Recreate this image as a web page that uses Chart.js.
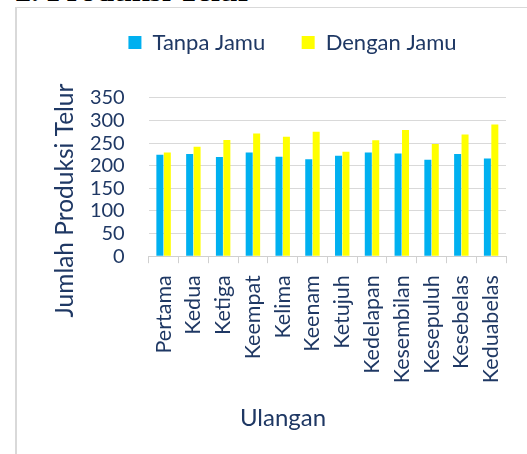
<!DOCTYPE html>
<html>
<head>
<meta charset="utf-8">
<script src="https://cdn.jsdelivr.net/npm/chart.js@4.4.0/dist/chart.umd.min.js"></script>
<style>
  html, body { margin: 0; padding: 0; background: #fff; width: 527px; height: 454px; overflow: hidden; }
  #judul { position: absolute; left: 15px; top: -26.5px; font: bold 32px "Liberation Serif", "Times New Roman", serif; line-height: 32px; color: #000; white-space: nowrap; }
  #bingkai { position: absolute; left: 15px; top: 7px; width: 600px; height: 500px; border-left: 2px solid #d9d9d9; border-top: 1px solid #d9d9d9; }
  #grafik { position: absolute; left: 17px; top: -5.5px; }
</style>
</head>
<body>
<div id="judul">2. Produksi Telur</div>
<div id="bingkai"></div>
<canvas id="grafik" width="551" height="470"></canvas>
<script>
const ulangan = ["Pertama", "Kedua", "Ketiga", "Keempat", "Kelima", "Keenam", "Ketujuh", "Kedelapan", "Kesembilan", "Kesepuluh", "Kesebelas", "Keduabelas"];
const tanpaJamu = [224, 226, 219, 229, 220, 214, 222, 229, 227, 213, 226, 216];
const denganJamu = [229, 242, 257, 271, 264, 275, 231, 256, 279, 248, 269, 291];
const tickY = [0, 50, 100, 150, 200, 250, 300, 350];
const judulY = "Jumlah Produksi Telur";
const judulX = "Ulangan";

const warnaTeks = "#1f3864";
const huruf = "Lato, Carlito, sans-serif";

// legend: tambah jarak di bawahnya, dan tengahkan pada lebar kanvas penuh
const jarakLegend = {
  id: "jarakLegend",
  beforeInit(chart) {
    const fitAsli = chart.legend.fit;
    chart.legend.fit = function () {
      fitAsli.bind(chart.legend)();
      this.height += 34.3;
    };
  },
  afterLayout(chart) {
    chart.legend.right = chart.width;
    chart.legend.width = chart.width - chart.legend.left;
  }
};

// judul sumbu digambar sendiri supaya posisinya bebas
const judulSumbu = {
  id: "judulSumbu",
  afterDraw(chart) {
    const ctx = chart.ctx;
    ctx.save();
    ctx.fillStyle = warnaTeks;
    ctx.textAlign = "center";
    ctx.textBaseline = "middle";
    ctx.font = "24px " + huruf;
    ctx.fillText(judulX, 266, 423.5);
    ctx.font = "24.5px " + huruf;
    ctx.translate(48, 205.5);
    ctx.rotate(-Math.PI / 2);
    ctx.fillText(judulY, 0, 0);
    ctx.restore();
  }
};

const ctx = document.getElementById("grafik").getContext("2d");
new Chart(ctx, {
  type: "bar",
  data: {
    labels: ulangan,
    datasets: [
      { label: "Tanpa Jamu", data: tanpaJamu, backgroundColor: "#00b0f0" },
      { label: "Dengan Jamu", data: denganJamu, backgroundColor: "#ffff00" }
    ]
  },
  options: {
    responsive: false,
    animation: false,
    categoryPercentage: 0.5,
    barPercentage: 0.94,
    layout: { padding: { left: 0, right: 62, top: 0, bottom: 0 } },
    plugins: {
      legend: {
        position: "top",
        labels: {
          boxWidth: 13,
          boxHeight: 13,
          padding: 36.5,
          color: warnaTeks,
          font: { family: huruf, size: 22 }
        }
      },
      tooltip: { enabled: false }
    },
    scales: {
      x: {
        grid: { drawOnChartArea: false, drawTicks: true, tickLength: 7, color: "#d0d0d0" },
        border: { color: "#d0d0d0" },
        ticks: {
          minRotation: 90,
          maxRotation: 90,
          autoSkip: false,
          padding: 12,
          color: warnaTeks,
          font: { family: huruf, size: 21.5 }
        },
        afterFit(scale) { scale.height = 208.8; }
      },
      y: {
        min: 0,
        max: 350,
        afterBuildTicks(scale) { scale.ticks = tickY.map(v => ({ value: v })); },
        grid: { color: "#d9d9d9", drawTicks: false },
        border: { display: false },
        ticks: {
          autoSkip: false,
          padding: 24,
          color: warnaTeks,
          font: { family: huruf, size: 20 }
        },
        afterFit(scale) { scale.width = 131.7; }
      }
    }
  },
  plugins: [jarakLegend, judulSumbu]
});
</script>
</body>
</html>
